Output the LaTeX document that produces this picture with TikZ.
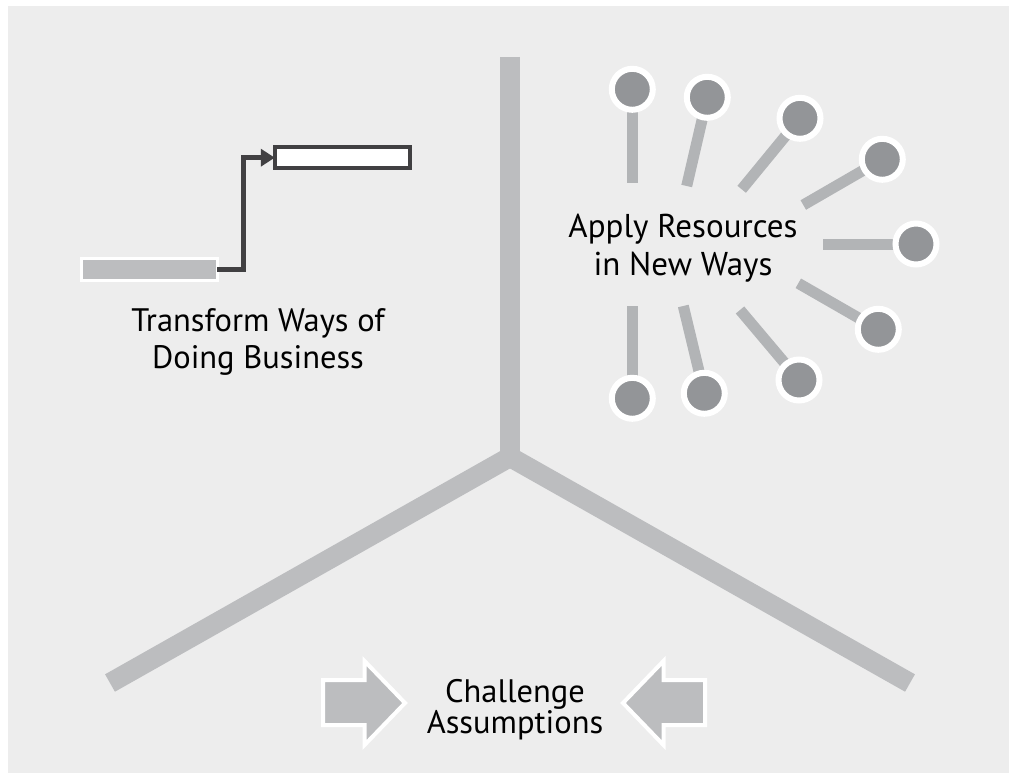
\documentclass[tikz,border=0pt]{standalone}
\usepackage{fontspec}
\setmainfont{PT Sans}
\usetikzlibrary{arrows.meta}
\definecolor{bg}{HTML}{EDEDED}
\definecolor{barc}{HTML}{BCBDBF}
\definecolor{rayc}{HTML}{B2B4B6}
\definecolor{dotc}{HTML}{939598}
\definecolor{darkc}{HTML}{414042}
\begin{document}
\begin{tikzpicture}[x=1pt,y=-1pt,
  ybar/.style={draw=barc,line width=20pt,line cap=butt,line join=miter},
  raybar/.style={draw=rayc,line width=11pt,line cap=butt},
  dotnode/.style={circle,fill=dotc,draw=white,line width=6pt,minimum size=41pt,inner sep=0pt,outer sep=0pt},
  srcbox/.style={rectangle,fill=barc,draw=white,line width=3pt,minimum width=136pt,minimum height=22pt,inner sep=0pt,outer sep=0pt},
  dstbox/.style={rectangle,fill=white,draw=darkc,line width=4pt,minimum width=135pt,minimum height=21pt,inner sep=0pt,outer sep=0pt},
  conn/.style={draw=darkc,line width=5pt,line join=miter,-{Triangle[length=14pt,width=17pt]}},
  label/.style={align=center,text=black,inner sep=0pt},
  bigarrow/.style={fill=barc,draw=white,line width=4pt,line join=miter}
]
\useasboundingbox (0,0) rectangle (1009,773);
\fill[white] (0,0) rectangle (1009,773);
\fill[bg] (8,6) rectangle (1009,773);

% Y shape
\coordinate (ytop) at (510,57);
\coordinate (yc) at (510,457);
\coordinate (yl) at (110,683);
\coordinate (yr) at (910,683);
\draw[ybar] (ytop) -- (yc);
\draw[ybar] (yl) -- (yc) -- (yr);

% lollipops
\foreach \i/\ax/\ay/\cx/\cy in {
  1/632.3/182.7/632.3/89.3,
  2/686.7/186/707.3/97.3,
  3/741.7/189.3/800/118.3,
  4/803.3/205/882.3/159.3,
  5/823.3/244/916/244,
  6/798.3/283.3/878.3/329.3,
  7/740/310/799/380,
  8/683.3/306/704.3/393.3,
  9/632.3/306/632.3/398.3}{
  \coordinate (r\i) at (\ax,\ay);
  \coordinate (p\i) at (\cx,\cy);
  \draw[raybar] (r\i) -- (p\i);
  \node[dotnode] (c\i) at (p\i) {};
}

% transform
\node[srcbox] (src) at (149,269.7) {};
\node[dstbox] (dst) at (342.3,157.7) {};
\draw[conn] (src.east) -- ++(26,0) coordinate (bend) |- (dst.west);

% texts
\node[label,font=\fontsize{32.5}{37}\selectfont] (t1) at (258,342.2) {Transform Ways of\\Doing Business};
\node[label,font=\fontsize{33}{38.4}\selectfont] (t2) at (683,248.1) {Apply Resources\\in New Ways};
\node[label,font=\fontsize{32.5}{29.6}\selectfont] (t3) at (515,709.8) {Challenge\\Assumptions};

% big arrows
\draw[bigarrow] (323,680) -- (364.5,680) -- (364.5,661) -- (405,703) -- (364.5,745) -- (364.5,725) -- (323,725) -- cycle;
\draw[bigarrow] (705,680) -- (663.5,680) -- (663.5,661) -- (623,703) -- (663.5,745) -- (663.5,725) -- (705,725) -- cycle;
\end{tikzpicture}
\end{document}
